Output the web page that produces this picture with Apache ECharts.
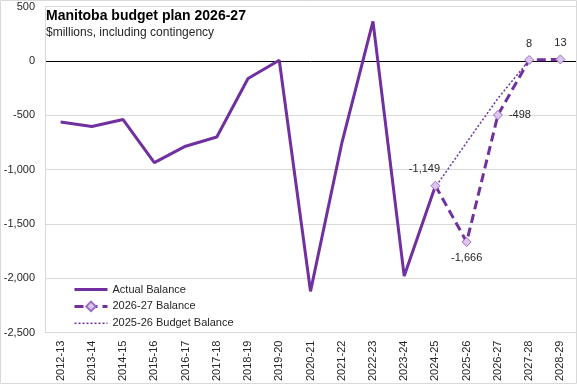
<!DOCTYPE html>
<html><head><meta charset="utf-8">
<script src="https://cdn.jsdelivr.net/npm/echarts@6/dist/echarts.min.js"></script>
<style>html,body{margin:0;padding:0;background:#fff}#c{width:577px;height:384px}</style>
</head><body><div id="c"></div>
<script>
const categories = ['2012-13','2013-14','2014-15','2015-16','2016-17','2017-18','2018-19','2019-20','2020-21','2021-22','2022-23','2023-24','2024-25','2025-26','2026-27','2027-28','2028-29'];
const actualBalance = [-562,-604,-540,-936,-785,-700,-162,5,-2120,-760,363,-1980,-1149,null,null,null,null];
const plan2627Balance = [null,null,null,null,null,null,null,null,null,null,null,null,-1149,-1666,-498,8,13];
const budget2526Balance = [null,null,null,null,null,null,null,null,null,null,null,-1980,-1160,-750,-345,5,null];
const yTicks = {min:-2500, max:500, interval:500};

const purple = '#7030A0';
const labelPos = {12:{position:'top',offset:[-11,0]},13:{position:'bottom'},14:{position:'right'},15:{position:'top'},16:{position:'top'}};
const fmt = v => Math.round(v).toLocaleString('en-US');

const chart = echarts.init(document.getElementById('c'), null, {renderer:'canvas'});
chart.setOption({
  animation:false,
  textStyle:{fontFamily:'Liberation Sans'},
  graphic:[{type:'rect',shape:{x:0.5,y:0.5,width:576,height:383},style:{fill:'none',stroke:'#d9d9d9',lineWidth:1},silent:true,z:-1}],
  title:{text:'Manitoba budget plan 2026-27',subtext:'$millions, including contingency',left:41,top:4,itemGap:4,
    textStyle:{fontFamily:'Liberation Sans',fontSize:14,fontWeight:'bold',color:'#000'},
    subtextStyle:{fontFamily:'Liberation Sans',fontSize:12,color:'#262626'}},
  grid:{left:45,right:1,top:6.5,bottom:50,containLabel:false},
  legend:{orient:'vertical',left:68,top:279,itemWidth:33,itemHeight:12,itemGap:5.6,
    textStyle:{fontFamily:'Liberation Sans',fontSize:11,color:'#262626'},
    data:[{name:'Actual Balance',itemStyle:{opacity:0},lineStyle:{width:3}},{name:'2026-27 Balance',lineStyle:{width:3}},{name:'2025-26 Budget Balance',itemStyle:{opacity:0},lineStyle:{width:1.5}}]},
  xAxis:{type:'category',data:categories,boundaryGap:true,position:'bottom',
    axisLine:{show:true,onZero:false,lineStyle:{color:'#d9d9d9'}},axisTick:{show:false},
    axisLabel:{rotate:90,interval:0,margin:8,fontSize:11,color:'#262626',fontFamily:'Liberation Sans'}},
  yAxis:{type:'value',min:yTicks.min,max:yTicks.max,interval:yTicks.interval,
    axisLine:{show:true,lineStyle:{color:'#d9d9d9'}},axisTick:{show:false},
    axisLabel:{fontSize:11,color:'#262626',margin:10,formatter:v=>fmt(v),fontFamily:'Liberation Sans'},
    splitLine:{show:true,lineStyle:{color:['#d9d9d9','#d9d9d9','#d9d9d9','#d9d9d9','#d9d9d9','#000000','#d9d9d9'],width:1}}},
  series:[
    {name:'Actual Balance',type:'line',data:actualBalance,symbol:'none',connectNulls:false,
      lineStyle:{color:purple,width:3},itemStyle:{color:purple},z:3},
    {name:'2026-27 Balance',type:'line',data:plan2627Balance.map((v,i)=>v===null?null:{value:v,label:labelPos[i]||{position:'top'}}),
      symbol:'diamond',symbolSize:9,
      lineStyle:{color:purple,width:3,type:[9,5]},
      itemStyle:{color:'#DCC6EE',borderColor:'#9B6BC4',borderWidth:1},
      label:{show:true,fontSize:11,color:'#262626',fontFamily:'Liberation Sans',distance:6,formatter:p=>fmt(p.value)},z:4},
    {name:'2025-26 Budget Balance',type:'line',data:budget2526Balance,symbol:'none',
      lineStyle:{color:purple,width:1.5,type:[2,2]},itemStyle:{color:purple},z:2}
  ]
});
</script></body></html>
